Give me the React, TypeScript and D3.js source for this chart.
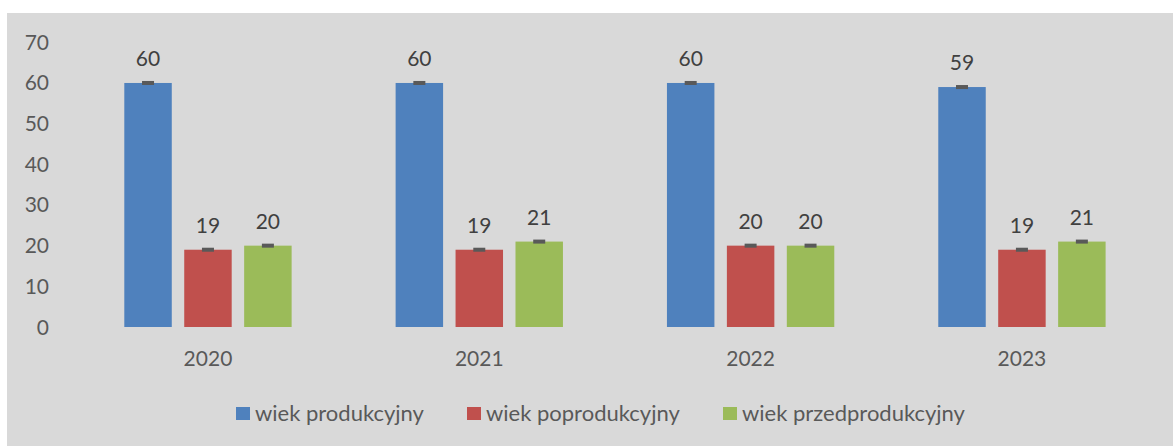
import React, { useEffect, useRef } from "react";
import * as d3 from "d3";

const years = ["2020", "2021", "2022", "2023"];
const seriesNames = ["wiek produkcyjny", "wiek poprodukcyjny", "wiek przedprodukcyjny"];
const produkcyjny = [60, 60, 60, 59];
const poprodukcyjny = [19, 19, 20, 19];
const przedprodukcyjny = [20, 21, 20, 21];
const yTicks = [0, 10, 20, 30, 40, 50, 60, 70];
const colors = ["#4f81bd", "#c0504d", "#9bbb59"];

const W = 1173;
const H = 446;

export default function App() {
  const ref = useRef<SVGSVGElement>(null);

  useEffect(() => {
    const svg = d3.select(ref.current);
    svg.selectAll("*").remove();
    const font = "Lato, 'Open Sans', sans-serif";

    svg.append("rect").attr("x", 7).attr("y", 13).attr("width", W - 7).attr("height", H - 13).attr("fill", "#d9d9d9");

    const x = d3.scaleBand().domain(years).range([72.3, 1157.6]);
    const y = d3.scaleLinear().domain([0, 70]).range([327, 42.3]);
    const inner = d3.scaleBand().domain(seriesNames).range([52, x.bandwidth() - 52]).paddingInner(0.208);

    const data = years.map((yr, i) => ({
      year: yr,
      values: [produkcyjny[i], poprodukcyjny[i], przedprodukcyjny[i]],
    }));

    // y axis labels
    svg.append("g")
      .selectAll("text")
      .data(yTicks)
      .join("text")
      .attr("x", 49)
      .attr("y", d => y(d) + 7.5)
      .attr("text-anchor", "end")
      .attr("font-family", font)
      .attr("font-size", 21)
      .attr("fill", "#595959")
      .text(d => d);

    // x axis labels
    svg.append("g")
      .selectAll("text")
      .data(years)
      .join("text")
      .attr("x", d => (x(d) as number) + x.bandwidth() / 2)
      .attr("y", 366)
      .attr("text-anchor", "middle")
      .attr("font-family", font)
      .attr("font-size", 21)
      .attr("fill", "#595959")
      .text(d => d);

    const groups = svg.append("g")
      .selectAll("g")
      .data(data)
      .join("g")
      .attr("transform", d => `translate(${x(d.year)},0)`);

    const items = groups.selectAll("g")
      .data(d => d.values.map((v, k) => ({ v, k })))
      .join("g");

    items.append("rect")
      .attr("x", d => inner(seriesNames[d.k]) as number)
      .attr("y", d => y(d.v))
      .attr("width", inner.bandwidth())
      .attr("height", d => y(0) - y(d.v))
      .attr("fill", d => colors[d.k]);

    // error bars
    items.append("rect")
      .attr("x", d => (inner(seriesNames[d.k]) as number) + inner.bandwidth() / 2 - 6)
      .attr("y", d => y(d.v) - 2)
      .attr("width", 12)
      .attr("height", 4)
      .attr("fill", "#595959");

    items.append("text")
      .attr("x", d => (inner(seriesNames[d.k]) as number) + inner.bandwidth() / 2)
      .attr("y", d => y(d.v) - 17)
      .attr("text-anchor", "middle")
      .attr("font-family", font)
      .attr("font-size", 21)
      .attr("fill", "#404040")
      .text(d => d.v);

    // legend
    const legendX = [236, 467, 723];
    const legend = svg.append("g")
      .selectAll("g")
      .data(seriesNames)
      .join("g")
      .attr("transform", (d, i) => `translate(${legendX[i]},0)`);
    legend.append("rect").attr("x", 0).attr("y", 407).attr("width", 14).attr("height", 13).attr("fill", (d, i) => colors[i]);
    legend.append("text")
      .attr("x", 19)
      .attr("y", 421)
      .attr("font-family", font)
      .attr("font-size", 22)
      .attr("fill", "#595959")
      .text(d => d);
  }, []);

  return <svg ref={ref} width={W} height={H} style={{ position: "absolute", left: 0, top: 0 }} />;
}
